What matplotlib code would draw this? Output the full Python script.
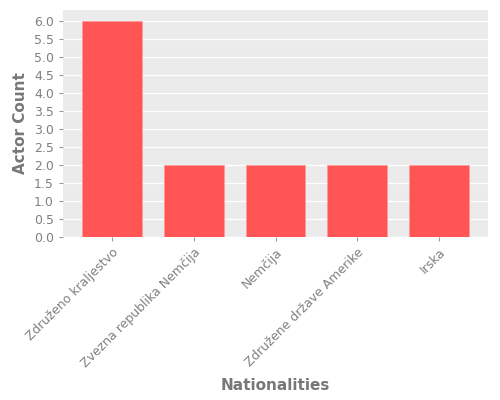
import matplotlib
matplotlib.use("Agg")
import matplotlib.pyplot as plt

nationalities = ["Združeno kraljestvo", "Zvezna republika Nemčija", "Nemčija",
                 "Združene države Amerike", "Irska"]
actor_count = [6, 2, 2, 2, 2]
y_ticks = [0.0, 0.5, 1.0, 1.5, 2.0, 2.5, 3.0, 3.5, 4.0, 4.5, 5.0, 5.5, 6.0]

fig, ax = plt.subplots(figsize=(5, 4), dpi=100)
ax.set_facecolor("#EBEBEB")
for s in ax.spines.values():
    s.set_visible(False)
ax.yaxis.grid(True, color="white", linewidth=1)
ax.set_axisbelow(True)

x = range(len(nationalities))
ax.bar(x, actor_count, width=0.73, color="#FF5555", edgecolor="#FF9999", linewidth=0.6)
ax.set_yticks(y_ticks)
ax.set_yticklabels([f"{v:.1f}" for v in y_ticks])
ax.set_xticks(list(x))
ax.set_xticklabels(nationalities, rotation=45, ha="right", rotation_mode="anchor")
ax.tick_params(colors="#999999", labelcolor="#808080", labelsize=9, length=3)
ax.set_xlabel("Nationalities", fontsize=11, fontweight="bold", color="#777777", labelpad=6)
ax.set_ylabel("Actor Count", fontsize=11, fontweight="bold", color="#777777")

fig.subplots_adjust(left=0.126, right=0.976, top=0.975, bottom=0.408)
fig.savefig("out.png")
